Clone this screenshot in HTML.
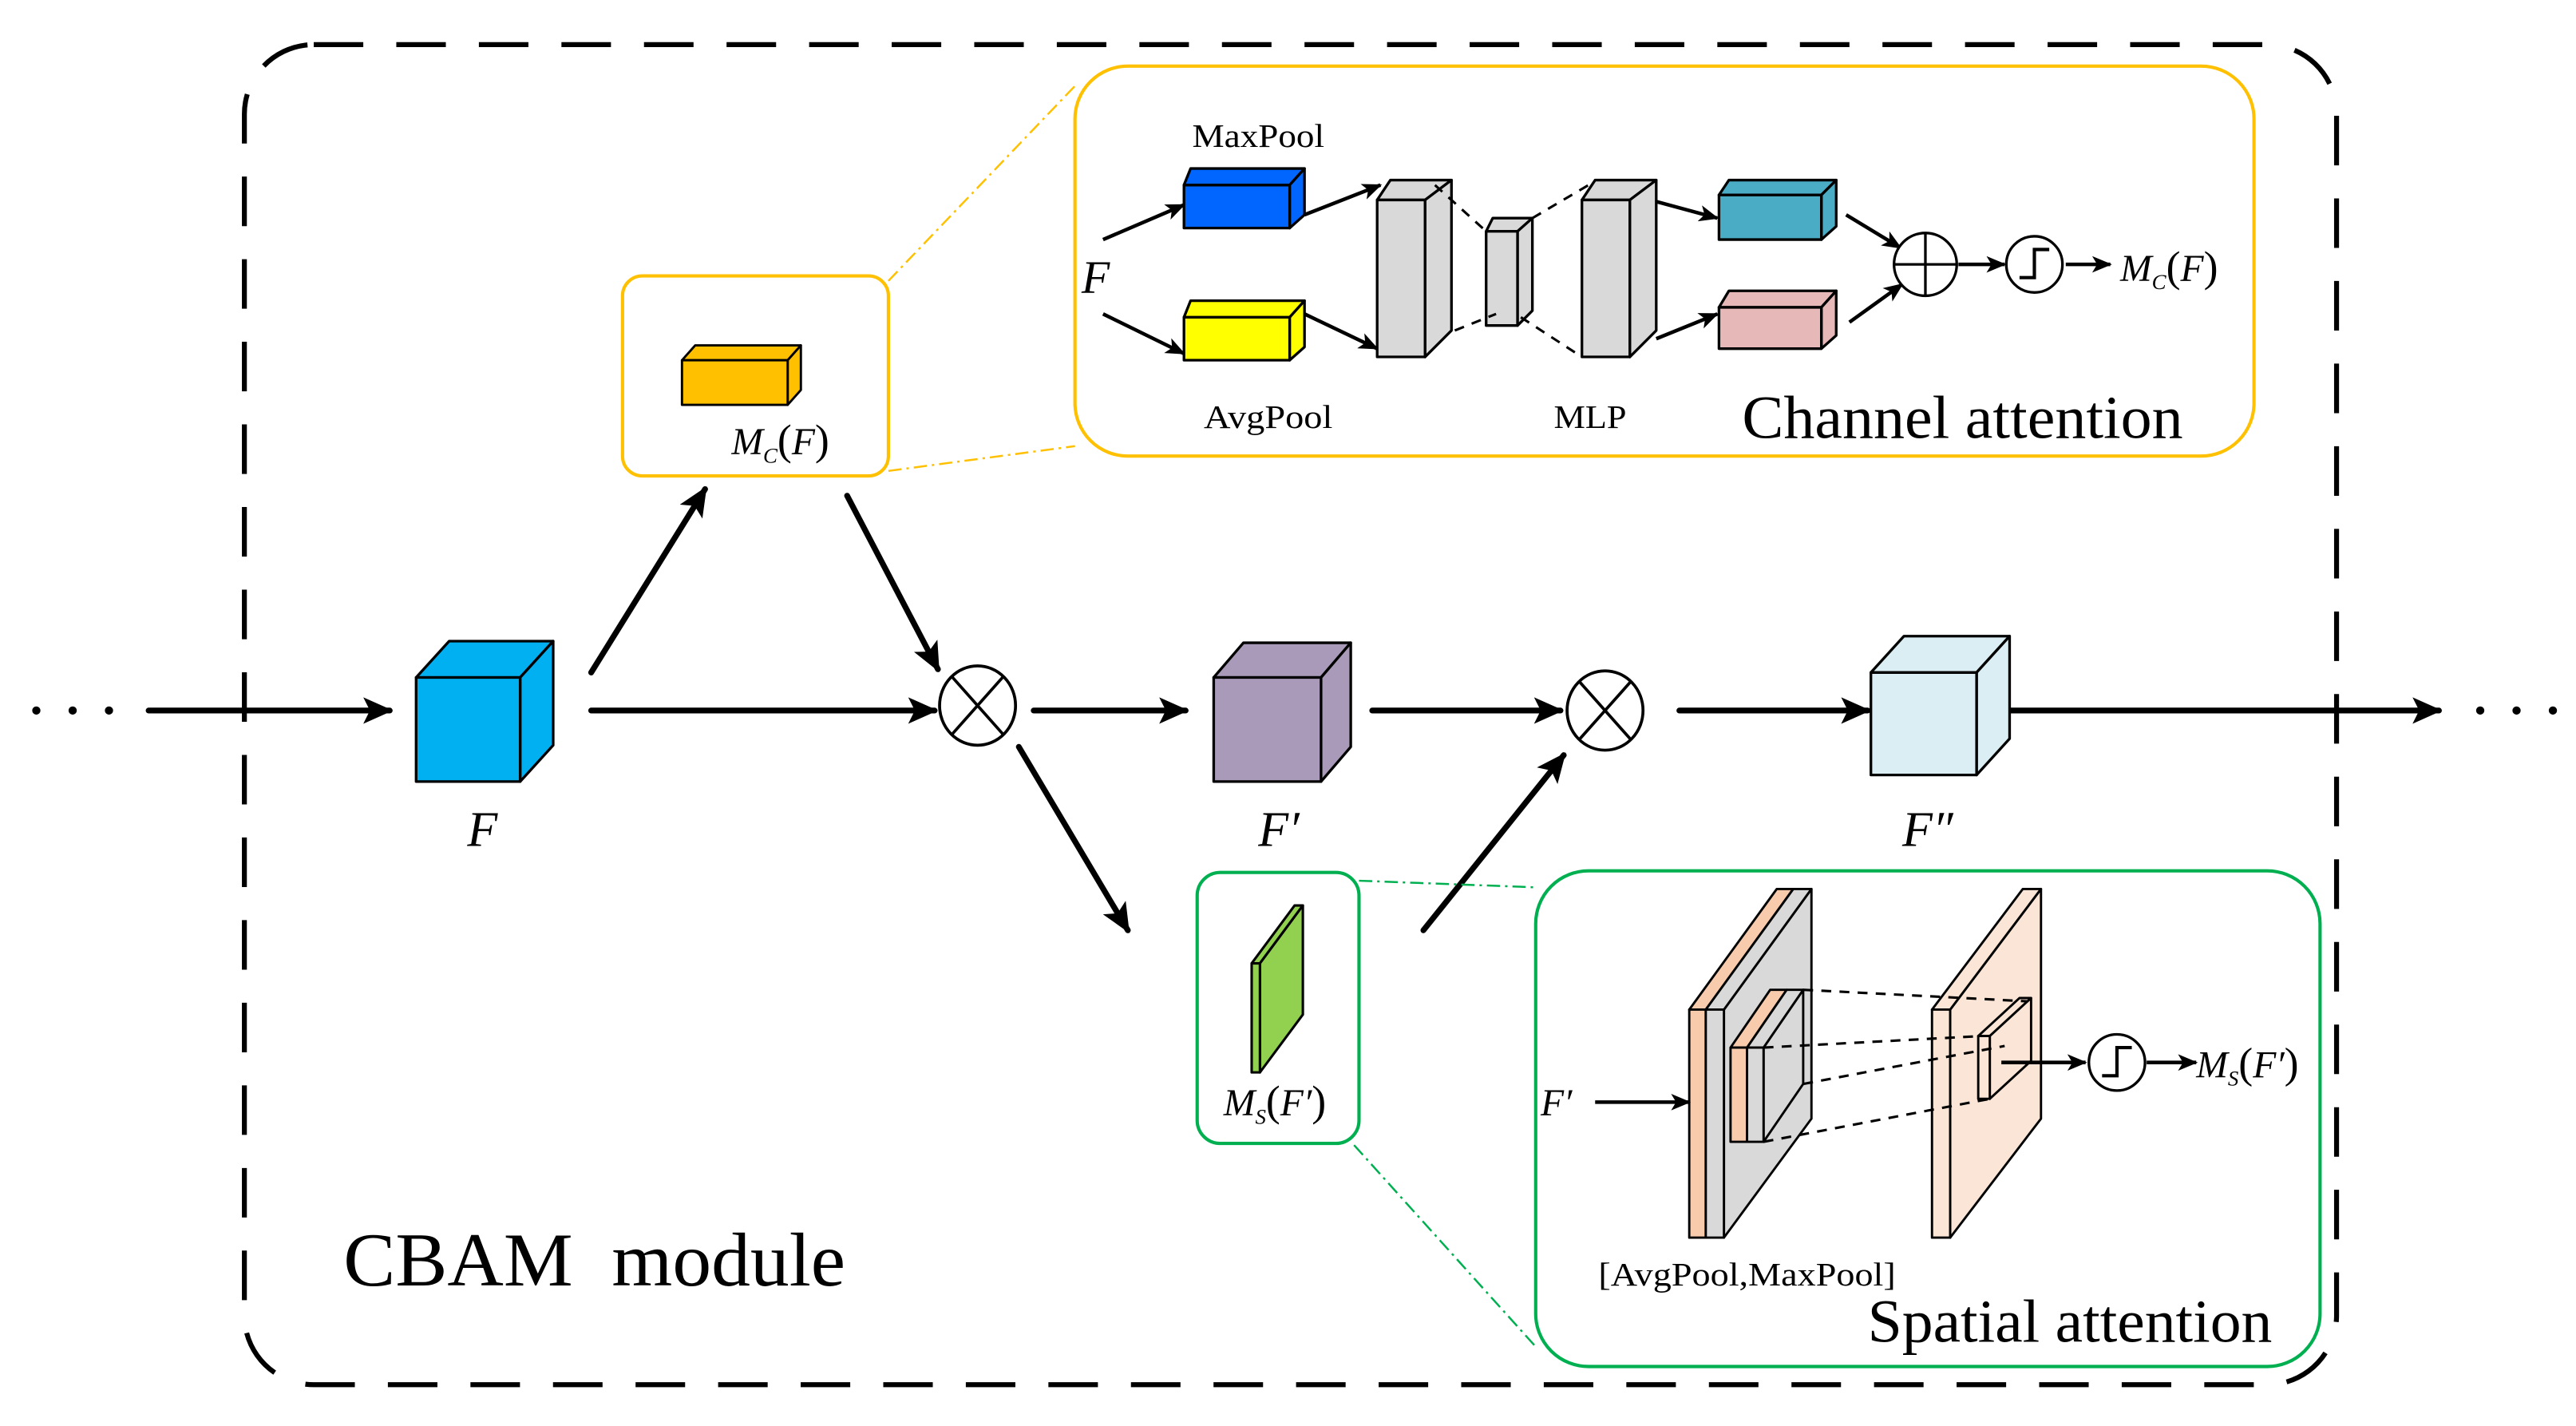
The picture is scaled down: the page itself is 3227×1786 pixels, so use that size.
<!DOCTYPE html>
<html><head><meta charset="utf-8"><style>
html,body{margin:0;padding:0;background:#fff;}
svg{display:block;}
text{font-family:"Liberation Serif",serif;}
.it{font-style:italic;}
</style></head><body>
<svg width="3227" height="1786" viewBox="0 0 1560 863" preserveAspectRatio="none" xmlns="http://www.w3.org/2000/svg">
<defs>
<marker id="ahL" markerWidth="18" markerHeight="16" refX="16" refY="8" orient="auto" markerUnits="userSpaceOnUse" viewBox="0 0 18 16">
<path d="M0,0 L18,8 L0,16 L4,8 Z" fill="#000"/></marker>
<marker id="ahS" markerWidth="12" markerHeight="10" refX="11" refY="5" orient="auto" markerUnits="userSpaceOnUse" viewBox="0 0 12 10">
<path d="M0,0 L12,5 L0,10 L3,5 Z" fill="#000"/></marker>
</defs>

<rect x="148" y="27" width="1267" height="811" rx="42" fill="none" stroke="#000" stroke-width="3" stroke-dasharray="30 20"/>

<g fill="#000"><circle cx="22" cy="430" r="2.5"/><circle cx="44" cy="430" r="2.5"/><circle cx="66" cy="430" r="2.5"/>
<circle cx="1502" cy="430" r="2.5"/><circle cx="1524" cy="430" r="2.5"/><circle cx="1546" cy="430" r="2.5"/></g>

<g stroke="#000" stroke-width="3.5" fill="none" marker-end="url(#ahL)" stroke-linecap="round">
<line x1="90" y1="430" x2="236" y2="430"/>
<line x1="358" y1="430" x2="566" y2="430"/>
<line x1="626" y1="430" x2="718" y2="430"/>
<line x1="831" y1="430" x2="945" y2="430"/>
<line x1="1017" y1="430" x2="1131" y2="430"/>
<line x1="1208" y1="430" x2="1477" y2="430"/>
<line x1="358" y1="407" x2="427" y2="296"/>
<line x1="513" y1="300" x2="568" y2="405"/>
<line x1="617" y1="452" x2="683" y2="563"/>
<line x1="862" y1="563" x2="947" y2="457"/>
</g>

<g stroke="#000" stroke-width="1.6" stroke-linejoin="round">
<polygon points="252,410 272,388 335,388 315,410" fill="#00b0f0"/>
<polygon points="315,410 335,388 335,451 315,473" fill="#00b0f0"/>
<rect x="252" y="410" width="63" height="63" fill="#00b0f0"/>
</g>
<text x="283" y="512" font-size="30" class="it">F</text>

<g stroke="#000" stroke-width="1.8" fill="#fff">
<ellipse cx="592" cy="427" rx="23" ry="24"/>
<line x1="576" y1="409" x2="608" y2="445"/><line x1="608" y1="409" x2="576" y2="445"/>
</g>

<g stroke="#000" stroke-width="1.6" stroke-linejoin="round">
<polygon points="735,410 753,389 818,389 800,410" fill="#a89ab8"/>
<polygon points="800,410 818,389 818,452 800,473" fill="#a89ab8"/>
<rect x="735" y="410" width="65" height="63" fill="#a89ab8"/>
</g>
<text x="762" y="512" font-size="30" class="it">F′</text>

<g stroke="#000" stroke-width="1.8" fill="#fff">
<ellipse cx="972" cy="430" rx="23" ry="24"/>
<line x1="956" y1="412" x2="988" y2="448"/><line x1="988" y1="412" x2="956" y2="448"/>
</g>

<g stroke="#000" stroke-width="1.6" stroke-linejoin="round">
<polygon points="1133,407 1153,385 1217,385 1197,407" fill="#daeef3"/>
<polygon points="1197,407 1217,385 1217,447 1197,469" fill="#daeef3"/>
<rect x="1133" y="407" width="64" height="62" fill="#daeef3"/>
</g>
<text x="1152" y="512" font-size="30" class="it">F″</text>

<rect x="377" y="167" width="161" height="121" rx="12" fill="none" stroke="#ffc000" stroke-width="2"/>
<g stroke="#ffc000" stroke-width="1.2" stroke-dasharray="8 3 1.5 3" fill="none">
<line x1="538" y1="170" x2="651" y2="52"/>
<line x1="538" y1="285" x2="651" y2="270"/>
</g>
<g stroke="#000" stroke-width="1.4" stroke-linejoin="round">
<polygon points="413,218 421,209 485,209 477,218" fill="#ffc000"/>
<polygon points="477,218 485,209 485,236 477,245" fill="#ffc000"/>
<rect x="413" y="218" width="64" height="27" fill="#ffc000"/>
</g>
<text x="443" y="275" font-size="23" class="it">M<tspan font-size="13" dy="5">C</tspan><tspan dy="-5" font-style="normal" font-size="26">(</tspan>F<tspan font-style="normal" font-size="26">)</tspan></text>

<rect x="651" y="40" width="714" height="236" rx="32" fill="none" stroke="#ffc000" stroke-width="2"/>
<text x="722" y="89" font-size="20" textLength="80" lengthAdjust="spacingAndGlyphs">MaxPool</text>
<text x="729" y="259" font-size="20" textLength="78" lengthAdjust="spacingAndGlyphs">AvgPool</text>
<text x="941" y="259" font-size="20" textLength="44" lengthAdjust="spacingAndGlyphs">MLP</text>
<text x="1055" y="265" font-size="37" textLength="267" lengthAdjust="spacingAndGlyphs">Channel attention</text>
<text x="655" y="177" font-size="28" class="it">F</text>

<g stroke="#000" stroke-width="2.2" fill="none" marker-end="url(#ahS)">
<line x1="668" y1="145" x2="717" y2="124"/>
<line x1="668" y1="190" x2="717" y2="214"/>
<line x1="790" y1="130" x2="836" y2="112"/>
<line x1="790" y1="190" x2="834" y2="211"/>
<line x1="1003" y1="122" x2="1040" y2="132"/>
<line x1="1003" y1="205" x2="1040" y2="190"/>
<line x1="1118" y1="130" x2="1151" y2="150"/>
<line x1="1120" y1="195" x2="1152" y2="172"/>
<line x1="1186" y1="160" x2="1214" y2="160"/>
<line x1="1251" y1="160" x2="1278" y2="160"/>
</g>

<g stroke="#000" stroke-width="1.6" stroke-linejoin="round">
<polygon points="717,112 721,102 790,102 781,112" fill="#0066ff"/>
<polygon points="781,112 790,102 790,130 781,138" fill="#0066ff"/>
<rect x="717" y="112" width="64" height="26" fill="#0066ff"/>
<polygon points="717,192 721,182 790,182 781,192" fill="#ffff00"/>
<polygon points="781,192 790,182 790,210 781,218" fill="#ffff00"/>
<rect x="717" y="192" width="64" height="26" fill="#ffff00"/>
<polygon points="834,121 842,109 879,109 863,121" fill="#d9d9d9"/>
<polygon points="863,121 879,109 879,200 863,216" fill="#d9d9d9"/>
<rect x="834" y="121" width="29" height="95" fill="#d9d9d9"/>
<polygon points="900,140 904,132 928,132 919,140" fill="#d9d9d9"/>
<polygon points="919,140 928,132 928,188 919,197" fill="#d9d9d9"/>
<rect x="900" y="140" width="19" height="57" fill="#d9d9d9"/>
<polygon points="958,121 966,109 1003,109 987,121" fill="#d9d9d9"/>
<polygon points="987,121 1003,109 1003,200 987,216" fill="#d9d9d9"/>
<rect x="958" y="121" width="29" height="95" fill="#d9d9d9"/>
<polygon points="1041,118 1047,109 1112,109 1103,118" fill="#4bacc6"/>
<polygon points="1103,118 1112,109 1112,137 1103,145" fill="#4bacc6"/>
<rect x="1041" y="118" width="62" height="27" fill="#4bacc6"/>
<polygon points="1041,186 1047,176 1112,176 1103,186" fill="#e6b9b8"/>
<polygon points="1103,186 1112,176 1112,203 1103,211" fill="#e6b9b8"/>
<rect x="1041" y="186" width="62" height="25" fill="#e6b9b8"/>
</g>
<g stroke="#000" stroke-width="1.5" stroke-dasharray="6 5" fill="none">
<line x1="869" y1="112" x2="900" y2="140"/>
<line x1="881" y1="200" x2="906" y2="190"/>
<line x1="928" y1="132" x2="962" y2="112"/>
<line x1="921" y1="192" x2="958" y2="216"/>
</g>
<g stroke="#000" stroke-width="1.6" fill="#fff">
<circle cx="1166" cy="160" r="19"/>
<line x1="1147" y1="160" x2="1185" y2="160"/><line x1="1166" y1="141" x2="1166" y2="179"/>
<circle cx="1232" cy="160" r="17"/>
</g>
<polyline points="1223,168 1232,168 1232,151 1241,151" fill="none" stroke="#000" stroke-width="2"/>
<text x="1284" y="170" font-size="23" class="it">M<tspan font-size="13" dy="5">C</tspan><tspan dy="-5" font-style="normal" font-size="26">(</tspan>F<tspan font-style="normal" font-size="26">)</tspan></text>

<rect x="725" y="528" width="98" height="164" rx="14" fill="none" stroke="#00b050" stroke-width="2"/>
<g stroke="#00b050" stroke-width="1.2" stroke-dasharray="8 3 1.5 3" fill="none">
<line x1="823" y1="533" x2="930" y2="537"/>
<line x1="820" y1="693" x2="930" y2="815"/>
</g>
<g stroke="#000" stroke-width="1.5" stroke-linejoin="round" fill="#92d050">
<polygon points="758,583 784,548 789,548 763,583"/>
<polygon points="763,583 789,548 789,614 763,649"/>
<rect x="758" y="583" width="5" height="66"/>
</g>
<text x="741" y="675" font-size="23" class="it">M<tspan font-size="13" dy="5">S</tspan><tspan dy="-5" font-style="normal" font-size="26">(</tspan>F′<tspan font-style="normal" font-size="26">)</tspan></text>

<rect x="930" y="527" width="475" height="300" rx="32" fill="none" stroke="#00b050" stroke-width="2"/>
<g stroke="#000" stroke-width="1.4" stroke-linejoin="round">
<polygon points="1044,611 1097,538 1097,677 1044,749" fill="#d9d9d9"/>
<polygon points="1023,611 1076,538 1086,538 1033,611" fill="#f8cbad"/>
<polygon points="1033,611 1086,538 1097,538 1044,611" fill="#d9d9d9"/>
<rect x="1023" y="611" width="10" height="138" fill="#f8cbad"/>
<rect x="1033" y="611" width="11" height="138" fill="#d9d9d9"/>
<polygon points="1068,634 1092,599 1092,656 1068,691" fill="#d9d9d9"/>
<polygon points="1048,634 1072,599 1082,599 1058,634" fill="#f8cbad"/>
<polygon points="1058,634 1082,599 1092,599 1068,634" fill="#d9d9d9"/>
<rect x="1048" y="634" width="10" height="57" fill="#f8cbad"/>
<rect x="1058" y="634" width="10" height="57" fill="#d9d9d9"/>
<polygon points="1181,611 1236,538 1236,677 1181,749" fill="#fbe5d6"/>
<polygon points="1170,611 1225,538 1236,538 1181,611" fill="#fbe5d6"/>
<rect x="1170" y="611" width="11" height="138" fill="#fbe5d6"/>
<polygon points="1198,627 1223,604 1230,604 1205,627" fill="#fbe5d6"/>
<polygon points="1205,627 1230,604 1230,642 1205,665" fill="#fbe5d6"/>
<rect x="1198" y="627" width="7" height="38" fill="#fbe5d6"/>
</g>
<g stroke="#000" stroke-width="1.5" stroke-dasharray="6 5" fill="none">
<line x1="1092" y1="599" x2="1228" y2="606"/>
<line x1="1068" y1="634" x2="1200" y2="627"/>
<line x1="1092" y1="656" x2="1214" y2="633"/>
<line x1="1068" y1="691" x2="1205" y2="665"/>
</g>
<g stroke="#000" stroke-width="2.2" fill="none" marker-end="url(#ahS)">
<line x1="966" y1="667" x2="1023" y2="667"/>
<line x1="1212" y1="643" x2="1263" y2="643"/>
<line x1="1300" y1="643" x2="1330" y2="643"/>
</g>
<circle cx="1282" cy="643" r="17" fill="#fff" stroke="#000" stroke-width="1.6"/>
<polyline points="1273,651 1282,651 1282,634 1291,634" fill="none" stroke="#000" stroke-width="2"/>
<text x="933" y="675" font-size="23" class="it">F′</text>
<text x="1330" y="652" font-size="23" class="it">M<tspan font-size="13" dy="5">S</tspan><tspan dy="-5" font-style="normal" font-size="26">(</tspan>F′<tspan font-style="normal" font-size="26">)</tspan></text>
<text x="968" y="778" font-size="20" textLength="180" lengthAdjust="spacingAndGlyphs">[AvgPool,MaxPool]</text>
<text x="1131" y="812" font-size="37" textLength="245" lengthAdjust="spacingAndGlyphs">Spatial attention</text>

<text x="208" y="778" font-size="46" textLength="304" lengthAdjust="spacingAndGlyphs" xml:space="preserve">CBAM  module</text>
</svg>
</body></html>
